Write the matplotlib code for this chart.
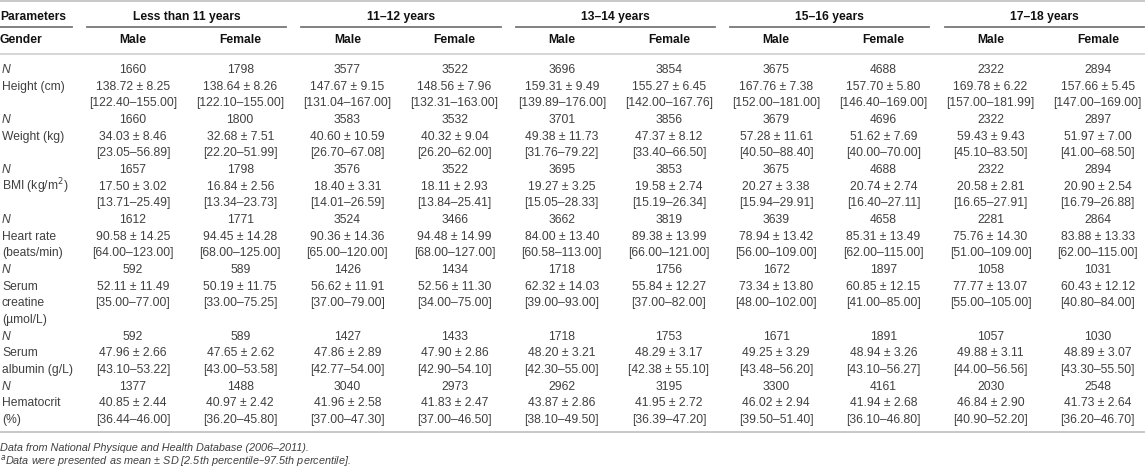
import matplotlib
matplotlib.use('Agg')
import matplotlib.pyplot as plt

plt.rcParams['font.family'] = ['Liberation Sans', 'DejaVu Sans']

W, H = 1145, 471

groups = ['Less than 11 years', '11\u201312 years', '13\u201314 years', '15\u201316 years', '17\u201318 years']
genders = ['Male', 'Female']

# one entry per parameter: label lines, N, mean, SD, [2.5th-97.5th] range
height_n = [1660, 1798, 3577, 3522, 3696, 3854, 3675, 4688, 2322, 2894]
height_mean = [138.72, 138.64, 147.67, 148.56, 159.31, 155.27, 167.76, 157.70, 169.78, 157.66]
height_sd = [8.25, 8.26, 9.15, 7.96, 9.49, 6.45, 7.38, 5.80, 6.22, 5.45]
height_range = ['122.40\u2013155.00', '122.10\u2013155.00', '131.04\u2013167.00', '132.31\u2013163.00',
                '139.89\u2013176.00', '142.00\u2013167.76', '152.00\u2013181.00', '146.40\u2013169.00',
                '157.00\u2013181.99', '147.00\u2013169.00']

weight_n = [1660, 1800, 3583, 3532, 3701, 3856, 3679, 4696, 2322, 2897]
weight_mean = [34.03, 32.68, 40.60, 40.32, 49.38, 47.37, 57.28, 51.62, 59.43, 51.97]
weight_sd = [8.46, 7.51, 10.59, 9.04, 11.73, 8.12, 11.61, 7.69, 9.43, 7.00]
weight_range = ['23.05\u201356.89', '22.20\u201351.99', '26.70\u201367.08', '26.20\u201362.00',
                '31.76\u201379.22', '33.40\u201366.50', '40.50\u201388.40', '40.00\u201370.00',
                '45.10\u201383.50', '41.00\u201368.50']

bmi_n = [1657, 1798, 3576, 3522, 3695, 3853, 3675, 4688, 2322, 2894]
bmi_mean = [17.50, 16.84, 18.40, 18.11, 19.27, 19.58, 20.27, 20.74, 20.58, 20.90]
bmi_sd = [3.02, 2.56, 3.31, 2.93, 3.25, 2.74, 3.38, 2.74, 2.81, 2.54]
bmi_range = ['13.71\u201325.49', '13.34\u201323.73', '14.01\u201326.59', '13.84\u201325.41',
             '15.05\u201328.33', '15.19\u201326.34', '15.94\u201329.91', '16.40\u201327.11',
             '16.65\u201327.91', '16.79\u201326.88']

hr_n = [1612, 1771, 3524, 3466, 3662, 3819, 3639, 4658, 2281, 2864]
hr_mean = [90.58, 94.45, 90.36, 94.48, 84.00, 89.38, 78.94, 85.31, 75.76, 83.88]
hr_sd = [14.25, 14.28, 14.36, 14.99, 13.40, 13.99, 13.42, 13.49, 14.30, 13.33]
hr_range = ['64.00\u2013123.00', '68.00\u2013125.00', '65.00\u2013120.00', '68.00\u2013127.00',
            '60.58\u2013113.00', '66.00\u2013121.00', '56.00\u2013109.00', '62.00\u2013115.00',
            '51.00\u2013109.00', '62.00\u2013115.00']

cr_n = [592, 589, 1426, 1434, 1718, 1756, 1672, 1897, 1058, 1031]
cr_mean = [52.11, 50.19, 56.62, 52.56, 62.32, 55.84, 73.34, 60.85, 77.77, 60.43]
cr_sd = [11.49, 11.75, 11.91, 11.30, 14.03, 12.27, 13.80, 12.15, 13.07, 12.12]
cr_range = ['35.00\u201377.00', '33.00\u201375.25', '37.00\u201379.00', '34.00\u201375.00',
            '39.00\u201393.00', '37.00\u201382.00', '48.00\u2013102.00', '41.00\u201385.00',
            '55.00\u2013105.00', '40.80\u201384.00']

alb_n = [592, 589, 1427, 1433, 1718, 1753, 1671, 1891, 1057, 1030]
alb_mean = [47.96, 47.65, 47.86, 47.90, 48.20, 48.29, 49.25, 48.94, 49.88, 48.89]
alb_sd = [2.66, 2.62, 2.89, 2.86, 3.21, 3.17, 3.29, 3.26, 3.11, 3.07]
alb_range = ['43.10\u201353.22', '43.00\u201353.58', '42.77\u201354.00', '42.90\u201354.10',
             '42.30\u201355.00', '42.38 \u00b1 55.10', '43.48\u201356.20', '43.10\u201356.27',
             '44.00\u201356.56', '43.30\u201355.50']

hct_n = [1377, 1488, 3040, 2973, 2962, 3195, 3300, 4161, 2030, 2548]
hct_mean = [40.85, 40.97, 41.96, 41.83, 43.87, 41.95, 46.02, 41.94, 46.84, 41.73]
hct_sd = [2.44, 2.42, 2.58, 2.47, 2.86, 2.72, 2.94, 2.68, 2.90, 2.64]
hct_range = ['36.44\u201346.00', '36.20\u201345.80', '37.00\u201347.30', '37.00\u201346.50',
             '38.10\u201349.50', '36.39\u201347.20', '39.50\u201351.40', '36.10\u201346.80',
             '40.90\u201352.20', '36.20\u201346.70']

params = [
    (['Height (cm)'], height_n, height_mean, height_sd, height_range),
    (['Weight (kg)'], weight_n, weight_mean, weight_sd, weight_range),
    (['BMI (kg/m$^2$)'], bmi_n, bmi_mean, bmi_sd, bmi_range),
    (['Heart rate', '(beats/min)'], hr_n, hr_mean, hr_sd, hr_range),
    (['Serum', 'creatine', '(\u00b5mol/L)'], cr_n, cr_mean, cr_sd, cr_range),
    (['Serum', 'albumin (g/L)'], alb_n, alb_mean, alb_sd, alb_range),
    (['Hematocrit', '(%)'], hct_n, hct_mean, hct_sd, hct_range),
]

footnotes = ['Data from National Physique and Health Database (2006\u20132011).',
             '$^{a}$Data were presented as mean \u00b1 SD [2.5th percentile\u201397.5th percentile].']

fig = plt.figure(figsize=(W / 100, H / 100), dpi=100)
ax = fig.add_axes([0, 0, 1, 1])
ax.set_xlim(0, W)
ax.set_ylim(H, 0)
ax.axis('off')

FS = 8.7
TXT = '#404040'
col_x = [133 + 107.2 * i for i in range(10)]
dy = 16.67

# header
ax.axhline(1, color='#c8c8c8', lw=1.4)
ax.text(0, 17, 'Parameters', fontsize=FS, fontweight='bold', va='center', ha='left', color='#111')
ax.plot([0, 72], [27, 27], color='#777', lw=1.3)
for gi, g in enumerate(groups):
    cx = (col_x[2 * gi] + col_x[2 * gi + 1]) / 2
    ax.text(cx, 17, g, fontsize=FS, fontweight='bold', va='center', ha='center', color='#111')
    x0 = col_x[2 * gi] - 46
    x1 = min(col_x[2 * gi + 1] + 46, W)
    ax.plot([x0, x1], [27, 27], color='#777', lw=1.3)
ax.text(0, 40, 'Gender', fontsize=FS, fontweight='bold', va='center', ha='left', color='#111')
for i, x in enumerate(col_x):
    ax.text(x, 40, genders[i % 2], fontsize=FS, fontweight='bold', va='center', ha='center', color='#111')
ax.axhline(54, color='#d0d0d0', lw=1.2)

# body
y = 70
for labels, n, mean, sd, rng in params:
    ax.text(2, y, 'N', fontsize=FS, style='italic', va='center', ha='left', color=TXT)
    for li, lab in enumerate(labels):
        ax.text(2, y + dy * (li + 1), lab, fontsize=FS, va='center', ha='left', color=TXT)
    for i, x in enumerate(col_x):
        ax.text(x, y, str(n[i]), fontsize=FS, va='center', ha='center', color=TXT)
        ax.text(x, y + dy, f'{mean[i]:.2f} \u00b1 {sd[i]:.2f}', fontsize=FS, va='center', ha='center', color=TXT)
        ax.text(x, y + 2 * dy, f'[{rng[i]}]', fontsize=FS, va='center', ha='center', color=TXT)
    y += dy * (1 + max(2, len(labels)))

ax.axhline(432, color='#c8c8c8', lw=1.4)
ax.text(0, 448, footnotes[0], fontsize=7.8, style='italic', va='center', ha='left', color=TXT)
ax.text(0, 461, footnotes[1], fontsize=7.8, style='italic', va='center', ha='left', color=TXT)

fig.savefig('out.png', dpi=100)
